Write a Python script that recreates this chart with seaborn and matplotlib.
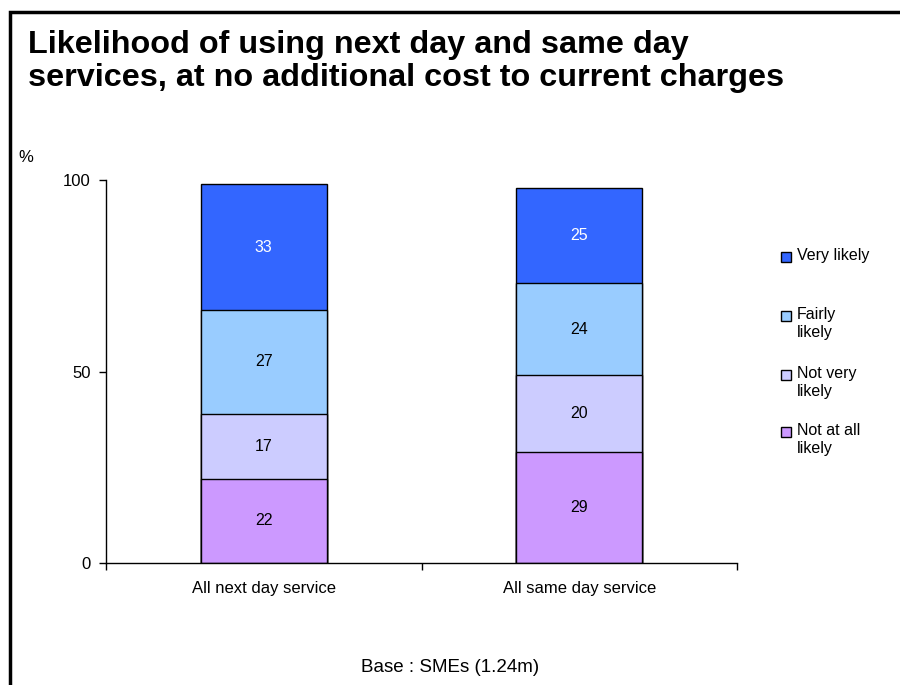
import numpy as np
import pandas as pd
import matplotlib
matplotlib.use("Agg")
import matplotlib.pyplot as plt
from matplotlib.patches import Rectangle
import seaborn as sns

categories = ["All next day service", "All same day service"]
series = ["Not at all likely", "Not very likely", "Fairly likely", "Very likely"]
legend_labels = ["Very likely", "Fairly\nlikely", "Not very\nlikely", "Not at all\nlikely"]
not_at_all = [22, 29]
not_very = [17, 20]
fairly = [27, 24]
very = [33, 25]
colors = {"Not at all likely": "#CC99FF", "Not very likely": "#CCCCFF",
          "Fairly likely": "#99CCFF", "Very likely": "#3366FF"}
label_colors = {"Not at all likely": "black", "Not very likely": "black",
                "Fairly likely": "black", "Very likely": "white"}

sns.set_theme(style="white")
plt.rcParams["font.family"] = ["Liberation Sans", "DejaVu Sans"]
plt.rcParams["text.color"] = "black"
plt.rcParams["xtick.color"] = "black"
plt.rcParams["ytick.color"] = "black"

values = {"Not at all likely": not_at_all, "Not very likely": not_very,
          "Fairly likely": fairly, "Very likely": very}
df = pd.DataFrame(values, index=categories)
cum = df.cumsum(axis=1)

fig = plt.figure(figsize=(9, 6.85), dpi=100)
ax = fig.add_axes([106 / 900, 1 - 563 / 685, (737 - 106) / 900, (563 - 180) / 685])

# stacked bars: draw cumulative totals from the top segment downwards
for s in reversed(series):
    d = pd.DataFrame({"cat": categories, "val": cum[s].values})
    sns.barplot(data=d, x="cat", y="val", color=colors[s], width=0.4,
                edgecolor="black", linewidth=1, saturation=1, ax=ax, zorder=2)

for i, cat in enumerate(categories):
    for s in series:
        mid = cum.loc[cat, s] - df.loc[cat, s] / 2
        ax.text(i, mid, f"{df.loc[cat, s]}", ha="center", va="center",
                fontsize=11.5, color=label_colors[s])

ax.set_xlim(-0.5, 1.5)
ax.set_ylim(0, 100)
ax.set_yticks([0, 50, 100])
ax.set_xticks([-0.5, 0.5, 1.5], minor=True)
ax.set_xticks([0, 1])
ax.set_xticklabels(categories, fontsize=12)
ax.tick_params(axis="x", which="major", bottom=True, length=0, pad=13)
ax.tick_params(axis="x", which="minor", bottom=True, length=5, width=1, color="black", direction="out")
ax.tick_params(axis="y", left=True, length=5, width=1, color="black", direction="out", labelsize=12, pad=6)
ax.set_xlabel("")
ax.set_ylabel("")
for side in ["top", "right"]:
    ax.spines[side].set_visible(False)
for side in ["left", "bottom"]:
    ax.spines[side].set_color("black")
    ax.spines[side].set_linewidth(1)

# legend: square swatch aligned with the first line of each label
legend_y = [257, 316, 375, 432]
for s, lab, yy in zip(reversed(series), legend_labels, legend_y):
    fig.patches.append(Rectangle((781 / 900, 1 - (yy + 5) / 685), 10 / 900, 10 / 685,
                                 transform=fig.transFigure, facecolor=colors[s],
                                 edgecolor="black", linewidth=1))
    fig.text(797 / 900, 1 - (yy - 9) / 685, lab, fontsize=11.5, ha="left", va="top",
             linespacing=1.25)

fig.text(28 / 900, 1 - 53 / 685, "Likelihood of using next day and same day",
         fontsize=23.3, fontweight="bold", ha="left", va="baseline")
fig.text(28 / 900, 1 - 86 / 685, "services, at no additional cost to current charges",
         fontsize=23.3, fontweight="bold", ha="left", va="baseline")
fig.text(18 / 900, 1 - 158 / 685, "%", fontsize=12, ha="left", va="center")
fig.text(450 / 900, 1 - 667 / 685, "Base : SMEs (1.24m)", fontsize=13.5, ha="center", va="center")

fig.patches.append(Rectangle((9.5 / 900, -0.1), 1, 1.1 - 12 / 685, transform=fig.transFigure,
                             fill=False, edgecolor="black", linewidth=2.5, clip_on=False))

fig.savefig("out.png", dpi=100)
